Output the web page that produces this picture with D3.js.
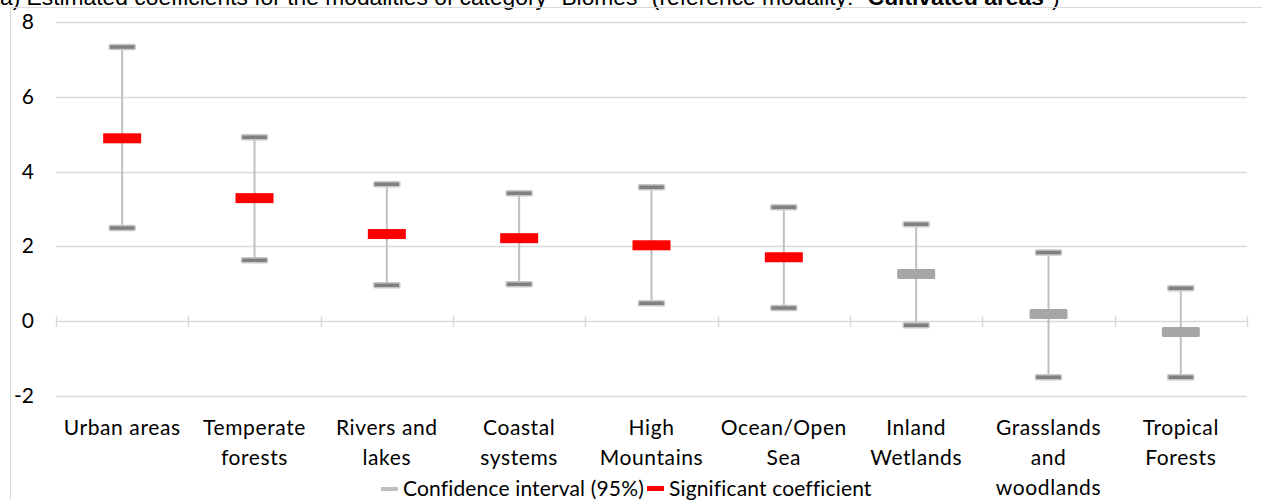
<!DOCTYPE html>
<html><head><meta charset="utf-8">
<script src="https://cdn.jsdelivr.net/npm/d3@7"></script>
<style>body{margin:0;background:#fff;overflow:hidden}svg{display:block}</style>
</head><body>
<svg id="c" width="1262" height="500"></svg>
<script>
const categories = [["Urban areas"],["Temperate","forests"],["Rivers and","lakes"],["Coastal","systems"],["High","Mountains"],["Ocean/Open","Sea"],["Inland","Wetlands"],["Grasslands","and","woodlands"],["Tropical","Forests"]];
const coefficients = [4.89, 3.29, 2.33, 2.22, 2.03, 1.71, 1.26, 0.19, -0.29];
const upper = [7.33, 4.92, 3.66, 3.42, 3.58, 3.05, 2.59, 1.84, 0.88];
const lower = [2.49, 1.63, 0.96, 0.99, 0.48, 0.35, -0.11, -1.50, -1.50];
const significant = [true, true, true, true, true, true, false, false, false];
const yTicks = [-2, 0, 2, 4, 6, 8];
const legendLabels = ["Confidence interval (95%)", "Significant coefficient"];

const svg = d3.select("#c");
const font = "Lato, 'Open Sans', sans-serif";
const fs = 21, ls = 0.6;
const left = 56, right = 1247;
const x = d3.scaleBand().domain(d3.range(categories.length)).range([left, right]);
const y = d3.scaleLinear().domain([-2, 8]).range([396, 22]);

// title (partly clipped at the top, as in the reference)
const title = svg.append("text").attr("x", 0).attr("y", 5).attr("font-family", "'Liberation Sans', Arial, sans-serif").attr("font-size", 22.8).attr("fill", "#000");
title.append("tspan").text('a) Estimated coefficients for the modalities of category "Biomes" (reference modality: "');
title.append("tspan").attr("font-weight", "bold").text("Cultivated areas");
title.append("tspan").text('")');

// chart border
svg.append("path").attr("d", "M10.5,500 V7.5 H1262").attr("fill", "none").attr("stroke", "#d9d9d9").attr("stroke-width", 1);

// gridlines
svg.append("g").selectAll("line").data(yTicks).join("line")
  .attr("x1", left).attr("x2", right)
  .attr("y1", d => Math.round(y(d)) + 0.5).attr("y2", d => Math.round(y(d)) + 0.5)
  .attr("stroke", "#d9d9d9").attr("stroke-width", 1.5);

// y labels
svg.append("g").selectAll("text").data(yTicks).join("text")
  .attr("x", 34).attr("y", d => y(d) + 7).attr("text-anchor", "end")
  .attr("font-family", font).attr("font-size", fs).attr("fill", "#000").text(d => d);

// category tick marks on zero line
const bounds = d3.range(categories.length + 1).map(i => left + i * x.step());
svg.append("g").selectAll("line").data(bounds).join("line")
  .attr("x1", d => Math.round(d) + 0.5).attr("x2", d => Math.round(d) + 0.5)
  .attr("y1", y(0) - 5).attr("y2", y(0) + 6)
  .attr("stroke", "#d9d9d9").attr("stroke-width", 1.5);

// category labels
svg.append("g").selectAll("text").data(categories).join("text")
  .attr("font-family", font).attr("font-size", fs).attr("letter-spacing", ls).attr("fill", "#000").attr("text-anchor", "middle")
  .each(function(d, i) {
    d3.select(this).selectAll("tspan").data(d).join("tspan")
      .attr("x", x(i) + x.bandwidth() / 2)
      .attr("y", (t, j) => 435 + j * 30).text(t => t);
  });

const cx = i => x(i) + x.bandwidth() / 2;
const g = svg.append("g");
// whiskers
g.selectAll("line.w").data(coefficients).join("line").attr("class", "w")
  .attr("x1", (d, i) => cx(i)).attr("x2", (d, i) => cx(i))
  .attr("y1", (d, i) => y(upper[i])).attr("y2", (d, i) => y(lower[i]))
  .attr("stroke", "#bfbfbf").attr("stroke-width", 2);
// caps
function cap(vals) {
  g.selectAll(null).data(vals).join("rect")
    .attr("x", (d, i) => cx(i) - 13).attr("y", d => y(d) - 2.5)
    .attr("width", 26).attr("height", 5).attr("rx", 1)
    .attr("fill", "#808080").attr("stroke", "#c8c8c8").attr("stroke-width", 1.5);
}
cap(upper); cap(lower);
// coefficients
g.selectAll("rect.c").data(coefficients).join("rect").attr("class", "c")
  .attr("x", (d, i) => cx(i) - 19).attr("y", d => y(d) - 5)
  .attr("width", 38).attr("height", 10)
  .attr("rx", (d, i) => significant[i] ? 0 : 1.5)
  .attr("fill", (d, i) => significant[i] ? "#ff0000" : "#a6a6a6");

// legend
const lg = svg.append("g").attr("font-family", font).attr("font-size", fs).attr("letter-spacing", 0.15);
lg.append("rect").attr("x", 381).attr("y", 487).attr("width", 17).attr("height", 4).attr("fill", "#bfbfbf");
lg.append("text").attr("x", 403).attr("y", 496).text(legendLabels[0]);
lg.append("rect").attr("x", 647).attr("y", 486).attr("width", 17).attr("height", 5).attr("fill", "#ff0000");
lg.append("text").attr("x", 669).attr("y", 496).text(legendLabels[1]);
</script>
</body></html>
